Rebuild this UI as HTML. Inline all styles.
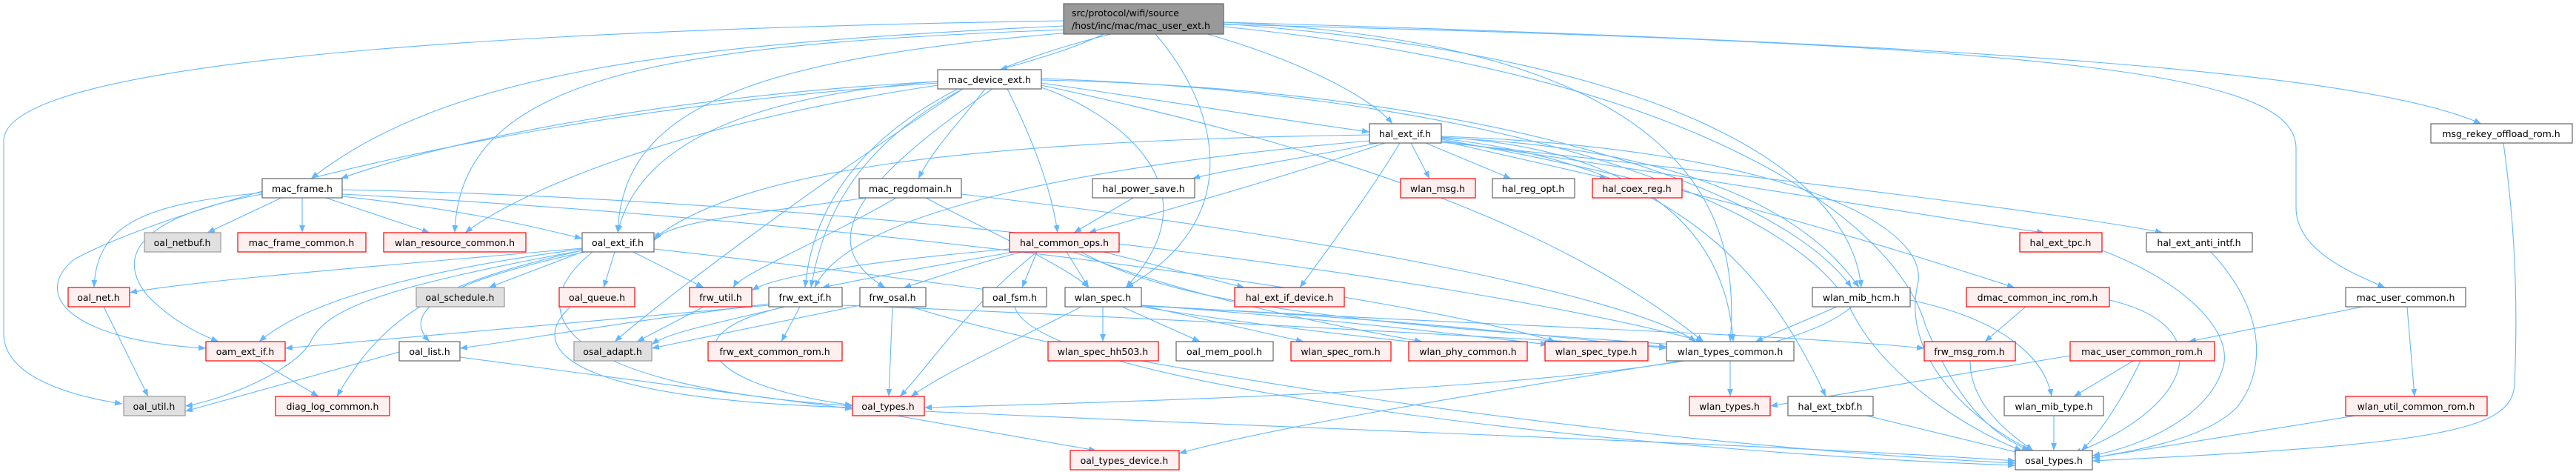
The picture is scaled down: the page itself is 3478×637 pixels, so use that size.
<!DOCTYPE html>
<html><head><meta charset="utf-8"><style>
html,body{margin:0;padding:0;background:#fff;}
svg{display:block;}
text{font-family:"DejaVu Sans","Liberation Sans",sans-serif;font-size:12.5px;fill:#000;}
.e{fill:none;stroke:#63b8ff;stroke-width:1.1;}
.w{fill:#fff;stroke:#666;stroke-width:1.2;}
.r{fill:#fff0f0;stroke:#ff0000;stroke-width:1.2;}
.g{fill:#e0e0e0;stroke:#999;stroke-width:1.2;}
</style></head><body>
<svg width="3478" height="637" viewBox="0 0 3478 637" xmlns="http://www.w3.org/2000/svg">
<defs><marker id="a" markerWidth="12" markerHeight="10" refX="10" refY="4" orient="auto" markerUnits="userSpaceOnUse"><path d="M0,0 L10,4 L0,8 z" fill="#63b8ff"/></marker></defs>
<g marker-end="url(#a)">
<path class="e" d="M1436,28 C700,40 5,80 5,190 L5,450 C5,510 100,535 165,545"/>
<path class="e" d="M1436,35 C900,60 600,100 420,241"/>
<path class="e" d="M1440,40 C900,60 620,100 614,314"/>
<path class="e" d="M1445,44 C1000,80 840,150 834,314"/>
<path class="e" d="M1490,46 C1440,70 1380,85 1350,94"/>
<path class="e" d="M1500,46 C1200,120 1100,250 1087,388"/>
<path class="e" d="M1560,46 C1650,150 1680,300 1520,388"/>
<path class="e" d="M1630,46 C1750,80 1850,130 1880,167"/>
<path class="e" d="M1652,30 C2300,60 2350,300 2336,461"/>
<path class="e" d="M1652,32 C2300,80 2500,250 2513,388"/>
<path class="e" d="M1652,36 C2300,100 2560,300 2600,440 C2650,560 2700,590 2740,608"/>
<path class="e" d="M1652,33 C2800,60 3100,100 3100,200 L3100,280 C3100,340 3180,370 3220,388"/>
<path class="e" d="M1652,30 C2700,60 3200,100 3350,167"/>
<path class="e" d="M1266,110 C900,130 600,190 460,241"/>
<path class="e" d="M1266,110 C1000,130 860,200 834,314"/>
<path class="e" d="M1266,115 C900,170 700,260 628,314"/>
<path class="e" d="M1266,112 C700,150 250,270 100,350 C40,400 100,460 278,470"/>
<path class="e" d="M1330,120 C1300,160 1260,200 1240,241"/>
<path class="e" d="M1300,120 C1150,200 1110,300 1095,388"/>
<path class="e" d="M1340,120 C1150,250 1100,330 1195,388"/>
<path class="e" d="M1360,120 C1400,200 1420,260 1428,314"/>
<path class="e" d="M1406,118 C1500,150 1650,250 1520,388"/>
<path class="e" d="M1406,115 C1800,200 2100,300 2300,461"/>
<path class="e" d="M1406,112 C1600,140 1750,165 1849,178"/>
<path class="e" d="M1300,120 C1100,250 900,400 830,461"/>
<path class="e" d="M1406,108 C2000,120 2400,250 2500,388"/>
<path class="e" d="M1406,106 C2100,130 2450,300 2500,420 C2550,520 2680,590 2730,608"/>
<path class="e" d="M1849,182 C1300,190 1000,230 883,322"/>
<path class="e" d="M1849,190 C1500,220 1150,280 1100,388"/>
<path class="e" d="M1860,193 C1750,215 1650,230 1610,241"/>
<path class="e" d="M1870,193 C1700,250 1550,290 1470,314"/>
<path class="e" d="M1905,193 L1930,241"/>
<path class="e" d="M1925,193 L2040,241"/>
<path class="e" d="M1946,190 L2170,241"/>
<path class="e" d="M1890,193 C1850,260 1790,340 1755,388"/>
<path class="e" d="M1946,185 C2200,200 2330,300 2340,461"/>
<path class="e" d="M1946,187 C2250,220 2380,350 2465,535"/>
<path class="e" d="M1946,186 C2300,200 2450,300 2510,388"/>
<path class="e" d="M1946,188 C2300,250 2600,350 2720,388"/>
<path class="e" d="M1946,190 C2300,240 2650,300 2760,314"/>
<path class="e" d="M1946,192 C2400,240 2800,290 2920,314"/>
<path class="e" d="M1946,184 C2400,200 2600,300 2590,380 C2560,500 2700,590 2745,608"/>
<path class="e" d="M380,267 L280,314"/>
<path class="e" d="M408,267 L408,314"/>
<path class="e" d="M440,267 L580,314"/>
<path class="e" d="M354,260 C200,275 130,300 127,388"/>
<path class="e" d="M354,262 C200,290 150,340 200,400 C240,440 280,455 295,461"/>
<path class="e" d="M462,265 C600,280 700,300 786,322"/>
<path class="e" d="M462,256 C1200,270 2000,380 2300,461"/>
<path class="e" d="M462,262 C1200,300 1900,400 2100,461"/>
<path class="e" d="M1170,267 C1000,290 900,300 883,325"/>
<path class="e" d="M1210,267 C1100,330 1000,370 990,388"/>
<path class="e" d="M1250,267 C1350,320 1440,360 1470,388"/>
<path class="e" d="M1298,262 C1800,320 2200,400 2290,461"/>
<path class="e" d="M1530,267 L1450,314"/>
<path class="e" d="M786,335 C500,360 250,380 175,395"/>
<path class="e" d="M786,336 C600,360 420,400 350,461"/>
<path class="e" d="M786,338 C500,390 440,420 420,460 C400,500 300,540 250,548"/>
<path class="e" d="M786,338 C600,380 520,420 455,535"/>
<path class="e" d="M790,340 C600,380 540,420 580,461"/>
<path class="e" d="M786,340 L660,388"/>
<path class="e" d="M830,340 L815,388"/>
<path class="e" d="M855,340 L950,388"/>
<path class="e" d="M883,336 C1100,360 1250,380 1340,392"/>
<path class="e" d="M800,340 C700,420 750,520 1151,548"/>
<path class="e" d="M1370,340 C1250,360 1150,380 1110,388"/>
<path class="e" d="M1380,340 C1300,360 1250,380 1220,388"/>
<path class="e" d="M1400,340 L1380,388"/>
<path class="e" d="M1440,340 L1470,388"/>
<path class="e" d="M1490,340 L1680,388"/>
<path class="e" d="M1363,336 C1200,350 1050,370 1015,392"/>
<path class="e" d="M1400,340 C1300,420 1250,500 1215,535"/>
<path class="e" d="M1460,340 C1600,420 1900,440 2260,465"/>
<path class="e" d="M1450,340 C1600,400 1800,440 1920,461"/>
<path class="e" d="M1489,414 L1489,461"/>
<path class="e" d="M1515,414 L1620,461"/>
<path class="e" d="M1541,412 L1760,461"/>
<path class="e" d="M1541,414 C1700,440 1850,455 1920,463"/>
<path class="e" d="M1541,412 C1800,430 2000,455 2090,465"/>
<path class="e" d="M1541,413 C1900,430 2100,455 2250,470"/>
<path class="e" d="M1460,414 C1350,470 1280,500 1230,535"/>
<path class="e" d="M1541,412 C2000,440 2400,450 2598,470"/>
<path class="e" d="M1060,414 C950,440 900,450 880,465"/>
<path class="e" d="M1080,414 L1055,461"/>
<path class="e" d="M1060,414 C900,450 950,520 1151,547"/>
<path class="e" d="M1038,412 C700,440 500,460 385,470"/>
<path class="e" d="M1038,410 C800,440 700,460 621,470"/>
<path class="e" d="M1137,412 C1600,430 2000,455 2250,468"/>
<path class="e" d="M950,414 L860,461"/>
<path class="e" d="M1205,414 L1200,535"/>
<path class="e" d="M1161,412 L880,470"/>
<path class="e" d="M1230,414 C1500,500 2200,600 2721,625"/>
<path class="e" d="M1370,414 C1400,520 2200,610 2721,628"/>
<path class="e" d="M770,414 C700,480 800,540 1151,550"/>
<path class="e" d="M539,475 L250,555"/>
<path class="e" d="M621,482 L1151,552"/>
<path class="e" d="M140,414 L200,535"/>
<path class="e" d="M350,487 L430,535"/>
<path class="e" d="M1210,561 L1480,608"/>
<path class="e" d="M1248,555 C1800,580 2400,600 2721,622"/>
<path class="e" d="M2336,487 L2336,535"/>
<path class="e" d="M2270,487 C2000,530 1700,580 1592,612"/>
<path class="e" d="M2480,414 L2370,461"/>
<path class="e" d="M2579,405 C2700,430 2760,480 2770,535"/>
<path class="e" d="M2500,414 C2400,500 2000,530 1248,550"/>
<path class="e" d="M2735,414 L2680,461"/>
<path class="e" d="M2848,405 C3000,440 2960,550 2800,612"/>
<path class="e" d="M2660,487 C2660,550 2720,590 2745,608"/>
<path class="e" d="M2838,338 C2950,380 3020,450 3000,500 C2980,560 2900,600 2825,615"/>
<path class="e" d="M2985,340 C3060,420 3060,500 3020,550 C2980,590 2900,605 2825,618"/>
<path class="e" d="M3190,414 L2955,461"/>
<path class="e" d="M3250,414 L3260,535"/>
<path class="e" d="M2880,487 L2800,535"/>
<path class="e" d="M2890,487 C2860,550 2830,590 2810,608"/>
<path class="e" d="M2795,480 L2390,548"/>
<path class="e" d="M3180,561 L2825,618"/>
<path class="e" d="M3380,193 C3395,300 3400,400 3395,520 C3390,580 3300,600 2825,622"/>
<path class="e" d="M2520,561 L2730,612"/>
<path class="e" d="M2773,561 L2773,608"/>
</g>
<g text-anchor="middle">
<rect x="1436" y="5" width="216" height="41" fill="#999" stroke="#666" stroke-width="1.2"/>
<text x="1447" y="22" text-anchor="start">src/protocol/wifi/source</text>
<text x="1447" y="39" text-anchor="start">/host/inc/mac/mac_user_ext.h</text>

<rect class="w" x="1266" y="94" width="140" height="26"/><text x="1336" y="112">mac_device_ext.h</text>
<rect class="w" x="1849" y="167" width="97" height="26"/><text x="1897" y="185">hal_ext_if.h</text>
<rect class="w" x="3282" y="167" width="191" height="26"/><text x="3377" y="185">msg_rekey_offload_rom.h</text>

<rect class="w" x="354" y="241" width="108" height="26"/><text x="408" y="259">mac_frame.h</text>
<rect class="w" x="1160" y="241" width="138" height="26"/><text x="1229" y="259">mac_regdomain.h</text>
<rect class="w" x="1475" y="241" width="138" height="26"/><text x="1544" y="259">hal_power_save.h</text>
<rect class="r" x="1891" y="241" width="101" height="26"/><text x="1941" y="259">wlan_msg.h</text>
<rect class="w" x="2015" y="241" width="111" height="26"/><text x="2070" y="259">hal_reg_opt.h</text>
<rect class="r" x="2150" y="241" width="121" height="26"/><text x="2210" y="259">hal_coex_reg.h</text>

<rect class="g" x="195" y="314" width="103" height="26"/><text x="246" y="332">oal_netbuf.h</text>
<rect class="r" x="321" y="314" width="173" height="26"/><text x="407" y="332">mac_frame_common.h</text>
<rect class="r" x="518" y="314" width="192" height="26"/><text x="614" y="332">wlan_resource_common.h</text>
<rect class="w" x="786" y="314" width="97" height="26"/><text x="834" y="332">oal_ext_if.h</text>
<rect class="r" x="1363" y="314" width="148" height="26"/><text x="1437" y="332">hal_common_ops.h</text>
<rect class="r" x="2727" y="314" width="111" height="26"/><text x="2782" y="332">hal_ext_tpc.h</text>
<rect class="w" x="2898" y="314" width="143" height="26"/><text x="2969" y="332">hal_ext_anti_intf.h</text>

<rect class="r" x="92" y="388" width="83" height="26"/><text x="133" y="406">oal_net.h</text>
<rect class="g" x="562" y="388" width="119" height="26"/><text x="621" y="406">oal_schedule.h</text>
<rect class="r" x="755" y="388" width="102" height="26"/><text x="806" y="406">oal_queue.h</text>
<rect class="r" x="931" y="388" width="84" height="26"/><text x="973" y="406">frw_util.h</text>
<rect class="w" x="1038" y="388" width="99" height="26"/><text x="1087" y="406">frw_ext_if.h</text>
<rect class="w" x="1161" y="388" width="89" height="26"/><text x="1205" y="406">frw_osal.h</text>
<rect class="w" x="1327" y="388" width="86" height="26"/><text x="1370" y="406">oal_fsm.h</text>
<rect class="w" x="1438" y="388" width="103" height="26"/><text x="1489" y="406">wlan_spec.h</text>
<rect class="r" x="1667" y="388" width="148" height="26"/><text x="1741" y="406">hal_ext_if_device.h</text>
<rect class="w" x="2447" y="388" width="132" height="26"/><text x="2513" y="406">wlan_mib_hcm.h</text>
<rect class="r" x="2655" y="388" width="193" height="26"/><text x="2751" y="406">dmac_common_inc_rom.h</text>
<rect class="w" x="3167" y="388" width="162" height="26"/><text x="3248" y="406">mac_user_common.h</text>

<rect class="r" x="278" y="461" width="107" height="26"/><text x="331" y="479">oam_ext_if.h</text>
<rect class="w" x="539" y="461" width="82" height="26"/><text x="580" y="479">oal_list.h</text>
<rect class="g" x="775" y="461" width="105" height="26"/><text x="827" y="479">osal_adapt.h</text>
<rect class="r" x="956" y="461" width="181" height="26"/><text x="1046" y="479">frw_ext_common_rom.h</text>
<rect class="r" x="1415" y="461" width="149" height="26"/><text x="1489" y="479">wlan_spec_hh503.h</text>
<rect class="w" x="1588" y="461" width="131" height="26"/><text x="1653" y="479">oal_mem_pool.h</text>
<rect class="r" x="1743" y="461" width="135" height="26"/><text x="1810" y="479">wlan_spec_rom.h</text>
<rect class="r" x="1902" y="461" width="160" height="26"/><text x="1982" y="479">wlan_phy_common.h</text>
<rect class="r" x="2086" y="461" width="139" height="26"/><text x="2155" y="479">wlan_spec_type.h</text>
<rect class="w" x="2250" y="461" width="172" height="26"/><text x="2336" y="479">wlan_types_common.h</text>
<rect class="r" x="2598" y="461" width="123" height="26"/><text x="2659" y="479">frw_msg_rom.h</text>
<rect class="r" x="2795" y="461" width="195" height="26"/><text x="2892" y="479">mac_user_common_rom.h</text>

<rect class="g" x="167" y="535" width="83" height="26"/><text x="208" y="553">oal_util.h</text>
<rect class="r" x="372" y="535" width="154" height="26"/><text x="449" y="553">diag_log_common.h</text>
<rect class="r" x="1151" y="535" width="97" height="26"/><text x="1199" y="553">oal_types.h</text>
<rect class="r" x="2281" y="535" width="109" height="26"/><text x="2335" y="553">wlan_types.h</text>
<rect class="w" x="2414" y="535" width="115" height="26"/><text x="2471" y="553">hal_ext_txbf.h</text>
<rect class="w" x="2706" y="535" width="134" height="26"/><text x="2773" y="553">wlan_mib_type.h</text>
<rect class="r" x="3167" y="535" width="191" height="26"/><text x="3262" y="553">wlan_util_common_rom.h</text>

<rect class="r" x="1445" y="608" width="147" height="26"/><text x="1518" y="626">oal_types_device.h</text>
<rect class="w" x="2721" y="608" width="104" height="26"/><text x="2773" y="626">osal_types.h</text>
</g>
</svg>
</body></html>
